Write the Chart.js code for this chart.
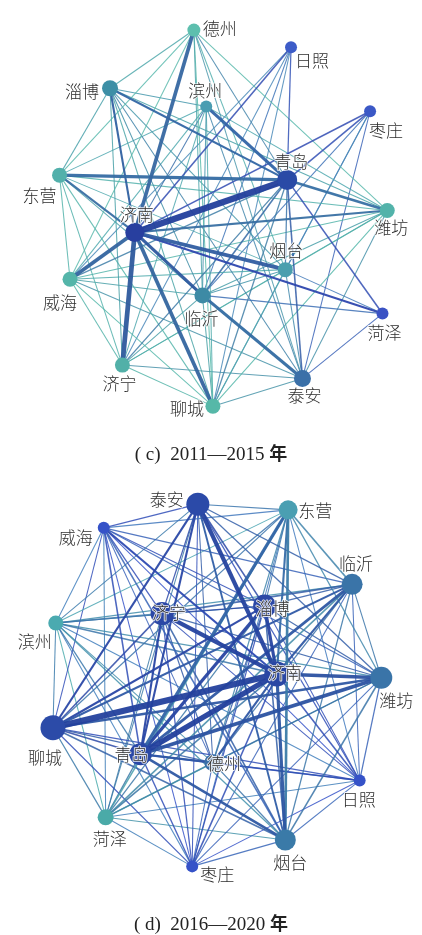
<!DOCTYPE html>
<html>
<head>
<meta charset="utf-8">
<script src="https://cdn.jsdelivr.net/npm/chart.js@4.4.1/dist/chart.umd.min.js"></script>
<style>
  html, body { margin: 0; padding: 0; background: #fff; }
  body { width: 422px; height: 935px; position: relative; overflow: hidden; }
  .panel { position: absolute; left: 0; width: 422px; height: 440px; }
  canvas { display: block; }
  .cap { position: absolute; left: 0; width: 422px; text-align: center; color: #222;
         font-family: "Liberation Serif", "DejaVu Serif", serif; font-size: 19px; line-height: 24px; }
  .cap .nian { font-family: "Noto Sans CJK SC", sans-serif; font-weight: bold; font-size: 18px; }
</style>
</head>
<body>
<div class="panel" style="top:0"><canvas id="netC" width="422" height="440"></canvas></div>
<div class="cap" style="top:440px">( c)&nbsp; 2011—2015 <span class="nian">年</span></div>
<div class="panel" style="top:470px"><canvas id="netD" width="422" height="440"></canvas></div>
<div class="cap" style="top:910px">( d)&nbsp; 2016—2020 <span class="nian">年</span></div>

<script>
// ---------- 2011—2015 network ----------
const citiesC = ["德州","日照","淄博","滨州","枣庄","青岛","东营","潍坊","济南","烟台","威海","临沂","菏泽","济宁","泰安","聊城"];
// node strength (drawn as radius)
const strengthC = [6.5, 6, 8, 6, 6, 10, 7.5, 7.5, 9.5, 7.5, 7.5, 8, 6, 7.5, 8.5, 7.5];
// linkage strength between cities
const linksC = [
  ["济南","青岛",6], ["济南","济宁",4.5], ["济南","德州",3.5], ["济南","聊城",3.5],
  ["济南","烟台",3.5], ["济南","威海",3.5], ["济南","临沂",3], ["临沂","泰安",3],
  ["东营","青岛",3], ["滨州","青岛",3], ["青岛","潍坊",2.5], ["济南","东营",2],
  ["淄博","济南",2], ["淄博","青岛",2], ["济南","潍坊",2], ["济南","菏泽",2],
  ["济南","日照",1.5], ["济南","枣庄",1.5], ["青岛","菏泽",1.5], ["临沂","菏泽",1.2],
  ["青岛","临沂",1.5], ["青岛","泰安",1.5], ["青岛","聊城",1.3], ["青岛","济宁",1.3],
  ["青岛","威海",1.2], ["青岛","日照",1.2], ["青岛","枣庄",1.5], ["青岛","德州",1],
  ["青岛","烟台",1.2],
  ["德州","淄博",1], ["德州","东营",1], ["德州","威海",1], ["德州","临沂",1],
  ["德州","烟台",1], ["德州","潍坊",1], ["德州","泰安",1], ["德州","聊城",1],
  ["淄博","东营",1], ["淄博","滨州",1], ["淄博","潍坊",1], ["淄博","烟台",1],
  ["淄博","临沂",1], ["淄博","泰安",1], ["淄博","聊城",1], ["淄博","济宁",1],
  ["滨州","东营",1], ["滨州","威海",1], ["滨州","济宁",1], ["滨州","临沂",1],
  ["滨州","聊城",1], ["滨州","泰安",1], ["滨州","潍坊",1], ["滨州","济南",1],
  ["东营","潍坊",1], ["东营","威海",1], ["东营","济宁",1], ["东营","临沂",1],
  ["东营","烟台",1], ["东营","聊城",1],
  ["潍坊","威海",1], ["潍坊","临沂",1], ["潍坊","济宁",1], ["潍坊","泰安",1],
  ["潍坊","聊城",1], ["潍坊","烟台",1],
  ["烟台","威海",1], ["烟台","临沂",1], ["烟台","泰安",1], ["烟台","聊城",1], ["烟台","济宁",1],
  ["威海","临沂",1], ["威海","济宁",1], ["威海","泰安",1], ["威海","聊城",1],
  ["临沂","济宁",1], ["临沂","聊城",1], ["济宁","泰安",1], ["济宁","聊城",1], ["泰安","聊城",1],
  ["日照","临沂",1], ["日照","济宁",1], ["日照","威海",1], ["日照","聊城",1],
  ["枣庄","临沂",1], ["枣庄","聊城",1], ["枣庄","泰安",1], ["枣庄","烟台",1],
  ["菏泽","烟台",1], ["菏泽","泰安",1]
];

// ---------- 2016—2020 network ----------
const citiesD = ["泰安","东营","威海","临沂","济宁","淄博","滨州","济南","潍坊","聊城","青岛","德州","日照","菏泽","烟台","枣庄"];
const strengthD = [11.5, 9.5, 6, 10.5, 11.5, 11.5, 7.5, 12.5, 11, 12.5, 11, 8.5, 6, 8, 10.5, 6];
// upper-triangle linkage strengths: row i lists cities i+1 .. 15
const linksD = [
  [1, 1.2, 1.2, 1.2, 1.5, 1, 4, 1.2, 2, 2, 1, 1.2, 1, 1.8, 1],
  [1.2, 1.5, 1.2, 1, 1, 2, 1.2, 1.2, 3, 1.2, 1, 1.5, 2.5, 1],
  [1.2, 1.2, 1, 1, 2, 1.2, 1, 1.5, 1, 1, 1, 1.5, 1],
  [1.5, 1.2, 1.2, 2, 1, 2, 2.5, 1.2, 1, 1.5, 1.2, 1],
  [1.2, 1.5, 4, 1.2, 1.5, 2, 1.2, 1, 1, 1.5, 1.2],
  [1, 3, 1.2, 2, 3, 1.2, 1, 1.2, 1.5, 1.2],
  [1.5, 1.2, 1, 1.2, 1, 1, 1, 1.2, 1],
  [3.5, 6, 5, 2, 1.5, 1.5, 3, 1.5],
  [2.5, 3.5, 1.2, 1.2, 1.2, 1.5, 1],
  [1.5, 1.2, 1.2, 1.2, 1.5, 1.2],
  [2, 1.5, 1.2, 2.5, 1.2],
  [1.2, 1.2, 1.2, 1],
  [1, 1, 1],
  [1, 1],
  [1.2]
];

// ---------- layout and styling ----------
const layoutC = {
  "德州":[193,21], "日照":[295,39], "淄博":[105,82], "滨州":[206,101], "枣庄":[378,106],
  "青岛":[291,178], "东营":[52,173], "潍坊":[396,210], "济南":[131,233], "烟台":[289,272],
  "威海":[63,282], "临沂":[202,299], "菏泽":[391,318], "济宁":[118,372], "泰安":[307,386], "聊城":[213,415]
};
const layoutD = {
  "泰安":[197,23], "东营":[293,29], "威海":[97,48], "临沂":[361,108], "济宁":[159,139],
  "淄博":[268,131], "滨州":[46,149], "济南":[281,203], "潍坊":[392,207], "聊城":[43,260],
  "青岛":[136,288], "德州":[213,297], "日照":[369,316], "菏泽":[99,355], "烟台":[290,379], "枣庄":[191,407]
};
const colorsC = {
  "德州":"#5dbfae", "日照":"#3d5cc8", "淄博":"#3d8fa6", "滨州":"#4a9db2", "枣庄":"#3b58c6",
  "青岛":"#2a4aa6", "东营":"#52b0ab", "潍坊":"#52b3aa", "济南":"#283f9f", "烟台":"#4a9fae",
  "威海":"#54b5a9", "临沂":"#3d8aa5", "菏泽":"#3a52c4", "济宁":"#52b0a8", "泰安":"#3a70a8", "聊城":"#56b8a8"
};
const colorsD = {
  "泰安":"#2b4aa8", "东营":"#4a9fb2", "威海":"#3552c8", "临沂":"#3a74a8", "济宁":"#2b48a6",
  "淄博":"#2b48a6", "滨州":"#4aaab0", "济南":"#2a47a4", "潍坊":"#3a74a8", "聊城":"#2c4ba8",
  "青岛":"#2a48a6", "德州":"#3a70a8", "日照":"#3552c8", "菏泽":"#4aaaa8", "烟台":"#3a7aa8", "枣庄":"#3552c8"
};
const labelOffsetC = {
  "德州":[26,-1], "日照":[21,13], "淄博":[-28,3], "滨州":[-1,-16], "枣庄":[16,19],
  "青岛":[4,-18], "东营":[-20,20], "潍坊":[4,17], "济南":[2,-18], "烟台":[1,-19],
  "威海":[-10,23], "临沂":[-1,23], "菏泽":[2,19], "济宁":[-3,18], "泰安":[2,17], "聊城":[-26,2]
};
const labelOffsetD = {
  "泰安":[-31,-5], "东营":[27,1], "威海":[-28,10], "临沂":[4,-21], "济宁":[7,-1],
  "淄博":[8,2], "滨州":[-21,19], "济南":[8,-1], "潍坊":[15,23], "聊城":[-8,30],
  "青岛":[-9,0], "德州":[11,1], "日照":[-1,19], "菏泽":[4,21], "烟台":[5,23], "枣庄":[25,8]
};

function hexRgb(h) {
  return [parseInt(h.slice(1,3),16), parseInt(h.slice(3,5),16), parseInt(h.slice(5,7),16)];
}
function edgeColor(ca, cb, w) {
  const a = hexRgb(ca), b = hexRgb(cb), navy = [30, 58, 150];
  const t = Math.min(1, Math.max(0, (w - 1) / 4)) * 0.55;
  const c = a.map((v, k) => {
    const m = (v + b[k]) / 2;
    return Math.round(m * (1 - t) + navy[k] * t);
  });
  const alpha = w > 1.6 ? 0.95 : 0.85;
  return `rgba(${c[0]},${c[1]},${c[2]},${alpha})`;
}

const cityLabels = {
  id: 'cityLabels',
  afterDatasetsDraw(chart, args, opts) {
    const { ctx, scales: { x, y } } = chart;
    ctx.save();
    ctx.font = '300 17px "Noto Sans CJK SC", sans-serif';
    ctx.textAlign = 'center';
    ctx.textBaseline = 'middle';
    ctx.lineJoin = 'round';
    opts.cities.forEach(name => {
      const p = opts.layout[name], off = opts.offsets[name];
      const px = x.getPixelForValue(p[0]) + off[0];
      const py = y.getPixelForValue(p[1]) + off[1];
      ctx.strokeStyle = 'rgba(255,255,255,0.85)';
      ctx.lineWidth = 1.8;
      ctx.strokeText(name, px, py);
      ctx.fillStyle = '#2e2e2e';
      ctx.fillText(name, px, py);
    });
    ctx.restore();
  }
};

function buildNetwork(canvasId, cities, strength, links, layout, colors, offsets) {
  const datasets = [];
  // nodes on top
  datasets.push({
    type: 'scatter',
    data: cities.map(n => ({ x: layout[n][0], y: layout[n][1] })),
    pointRadius: strength,
    pointHoverRadius: strength,
    backgroundColor: cities.map(n => colors[n]),
    borderWidth: 0,
    order: 0,
    clip: false
  });
  links.forEach(([a, b, w]) => {
    datasets.push({
      type: 'line',
      data: [{ x: layout[a][0], y: layout[a][1] }, { x: layout[b][0], y: layout[b][1] }],
      borderColor: edgeColor(colors[a], colors[b], w),
      borderWidth: w * 1.05,
      pointRadius: 0,
      showLine: true,
      fill: false,
      tension: 0,
      clip: false,
      order: 100 - Math.round(w * 10)
    });
  });
  return new Chart(document.getElementById(canvasId), {
    type: 'scatter',
    data: { datasets },
    options: {
      responsive: false,
      animation: false,
      devicePixelRatio: 1,
      events: [],
      layout: { padding: 0 },
      scales: {
        x: { type: 'linear', min: 0, max: 422, display: false },
        y: { type: 'linear', min: 0, max: 440, reverse: true, display: false }
      },
      plugins: {
        legend: { display: false },
        tooltip: { enabled: false },
        cityLabels: { cities, layout, offsets }
      }
    },
    plugins: [cityLabels]
  });
}

// expand the triangular table of 2016—2020 into city pairs
const pairsD = [];
linksD.forEach((row, i) => {
  row.forEach((w, k) => pairsD.push([citiesD[i], citiesD[i + 1 + k], w]));
});

buildNetwork('netC', citiesC, strengthC, linksC, layoutC, colorsC, labelOffsetC);
buildNetwork('netD', citiesD, strengthD, pairsD, layoutD, colorsD, labelOffsetD);
</script>
</body>
</html>
